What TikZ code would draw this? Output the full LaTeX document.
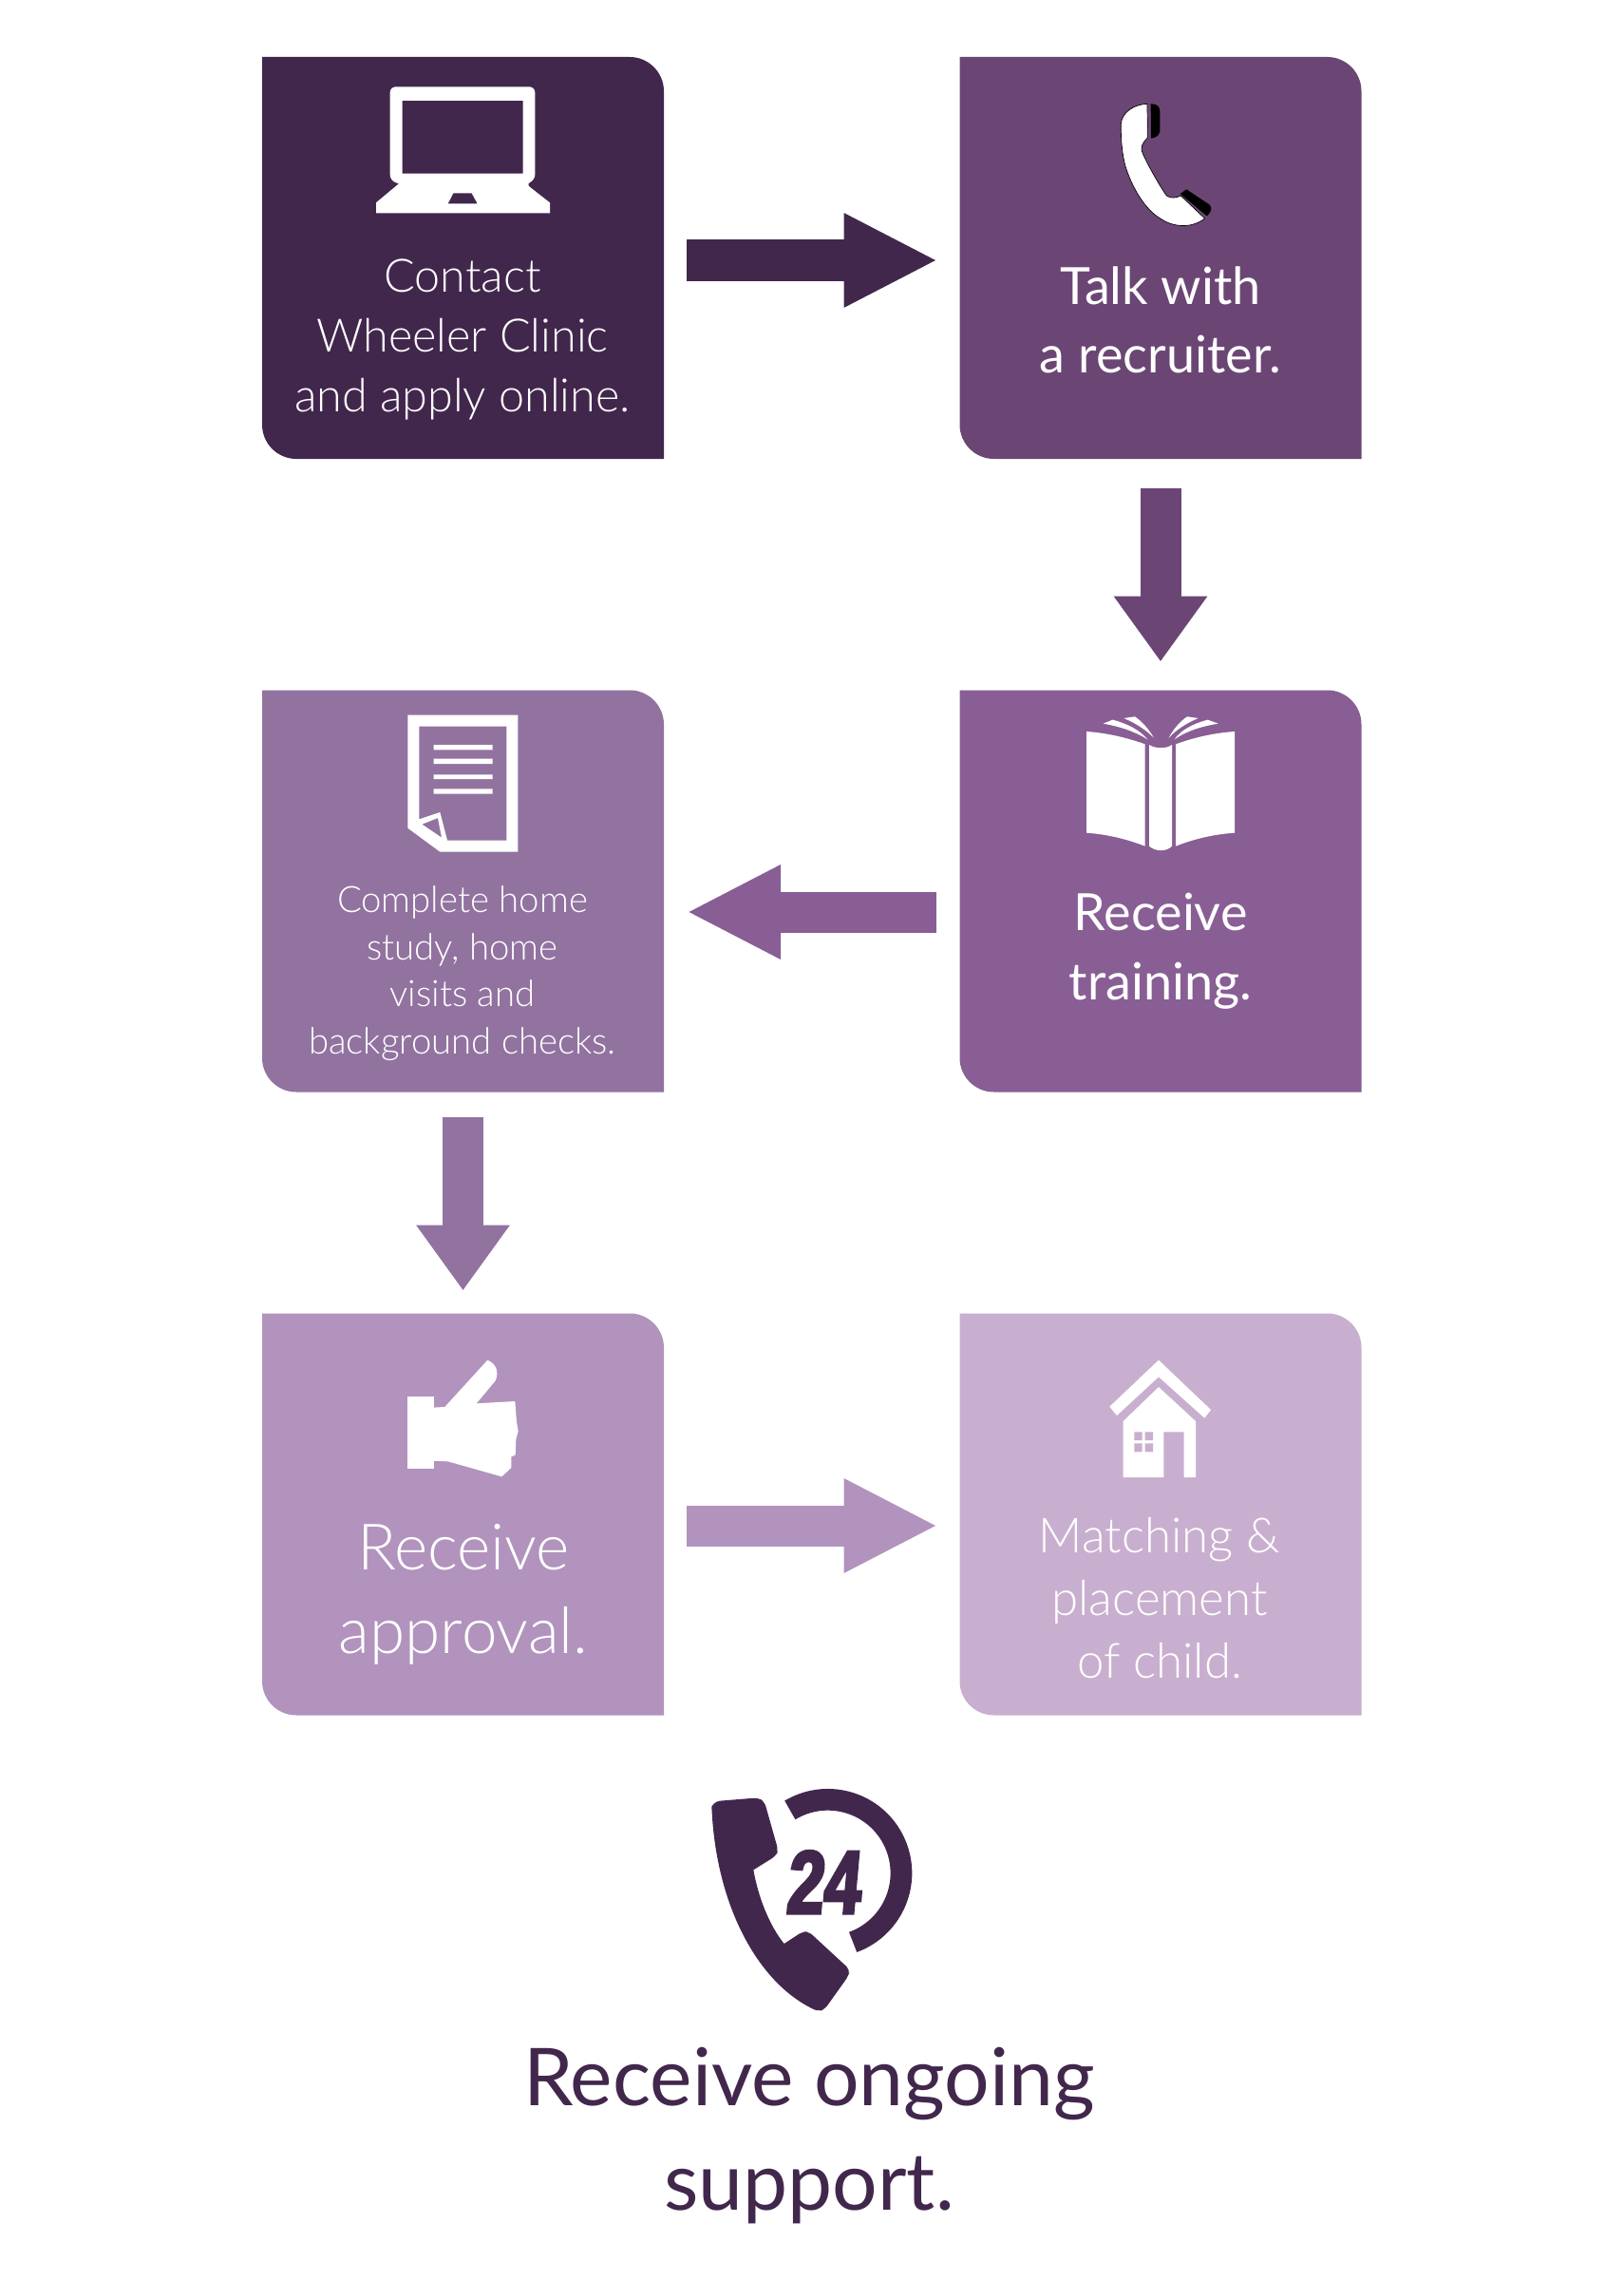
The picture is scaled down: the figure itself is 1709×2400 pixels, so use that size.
\documentclass[tikz,border=0pt]{standalone}
\usepackage{fontspec}
\setmainfont{Lato}
\newfontfamily\lightfont{Lato Light}
\newfontfamily\heavyfont[FakeSlant=0.09,FakeStretch=0.74,FakeBold=3.5]{Liberation Sans Bold}
\usetikzlibrary{arrows.meta}
\definecolor{cA}{HTML}{42274D}
\definecolor{cB}{HTML}{6B4675}
\definecolor{cC}{HTML}{885E95}
\definecolor{cD}{HTML}{9273A0}
\definecolor{cE}{HTML}{B193BD}
\definecolor{cF}{HTML}{C9AFCF}
\tikzset{
  stepbox/.style={rectangle,minimum width=423pt,minimum height=423pt,inner sep=0pt,outer sep=0pt},
  blockarrow/.style={line width=43pt,-{Triangle[length=99pt 0 0,width=92pt 0 0]}},
  blockarrowdown/.style={line width=43pt,-{Triangle[length=69pt 0 0,width=94pt 0 0]}},
  label/.style={anchor=base,align=center,inner sep=0pt,text=white},
  icon/.style={x=0.33333pt,y=-0.33333pt},
}
\newcommand{\panel}[4]{%
  \node[stepbox] (#1) at (#2,#3) {};
  \fill[#4] (#1.north west) -- ([xshift=-36pt]#1.north east) arc[start angle=90,end angle=0,radius=36pt]
    -- (#1.south east) -- ([xshift=36pt]#1.south west) arc[start angle=270,end angle=180,radius=36pt] -- cycle;
}
\begin{document}
\begin{tikzpicture}[x=1pt,y=-1pt]
\useasboundingbox (0,0) rectangle (1709,2400);
\fill[white] (0,0) rectangle (1709,2400);
\panel{contact}{487.5}{271.5}{cA}
\panel{talk}{1222}{271.5}{cB}
\panel{train}{1222}{938}{cC}
\panel{study}{487.5}{938}{cD}
\panel{approve}{487.5}{1594}{cE}
\panel{match}{1222}{1594}{cF}
% arrows
\draw[blockarrow,cA,shorten <=24pt,shorten >=23pt] ([yshift=-2.5pt]contact.east) -- ([yshift=-2.5pt]talk.west);
\draw[blockarrowdown,cB,shorten <=31pt,shorten >=30pt] (talk.south) -- (train.north);
\draw[blockarrow,cC,shorten <=25pt,shorten >=24pt] ([yshift=-22pt]train.west) -- ([yshift=-22pt]study.east);
\draw[blockarrowdown,cD,shorten <=26pt,shorten >=24pt] (study.south) -- (approve.north);
\draw[blockarrow,cE,shorten <=24pt,shorten >=23pt] ([yshift=-12pt]approve.east) -- ([yshift=-12pt]match.west);
% texts
\node[label,font=\lightfont\fontsize{48.5pt}{63pt}\selectfont] (t1) at (487,433) {Contact\\Wheeler Clinic\\and apply online.};
\node[label,font=\fontsize{54pt}{72pt}\selectfont] (t2) at (1222,392) {Talk with\\a recruiter.};
\node[label,font=\fontsize{54pt}{73pt}\selectfont] (t3) at (1222,1052) {Receive\\training.};
\node[label,font=\lightfont\fontsize{38.3pt}{49.5pt}\selectfont] (t4) at (487,1109) {Complete home\\study, home\\visits and\\background checks.};
\node[label,font=\lightfont\fontsize{67.5pt}{88pt}\selectfont] (t5) at (488,1740) {Receive\\approval.};
\node[label,font=\lightfont\fontsize{51pt}{66pt}\selectfont] (t6) at (1221,1766) {Matching \&\\placement\\of child.};
\node[label,text=cA,font=\fontsize{84pt}{110pt}\selectfont] (t7) at (852,2326) {Receive ongoing\\support.};
% laptop
\begin{scope}[shift={(270,50)},icon]
\fill[white,even odd rule] [rounded corners=6pt] (422,124) -- (880,124) -- (880,420) -- (850,430) [sharp corners] -- (927,490) -- (927,523) -- (378,523) -- (378,490) -- (450,430) [rounded corners=6pt] -- (422,420) -- cycle
  [sharp corners] (461,168) -- (842,168) -- (842,398) -- (461,398) -- cycle
  (622,460) -- (680,460) -- (698,493) -- (605,493) -- cycle;
\end{scope}
% handset
\begin{scope}[shift={(1000,50)},icon]
\fill[black] (635,178) .. controls (655,178) and (662,185) .. (664,200) -- (664,265) .. controls (660,280) and (650,285) .. (636,287) -- cycle;
\fill[black] (748,448) -- (820,496) .. controls (830,505) and (828,518) .. (812,532) -- (728,462) -- cycle;
\draw[black,line width=0.7pt,fill=white] (624,178) .. controls (580,180) and (545,205) .. (541,240) .. controls (540,290) and (545,340) .. (555,375)
  .. controls (575,440) and (615,510) .. (665,540) .. controls (700,565) and (760,575) .. (806,540) -- (730,468)
  .. controls (715,475) and (700,478) .. (685,468) .. controls (665,440) and (625,370) .. (610,335) .. controls (600,315) and (610,300) .. (625,285) -- cycle;
\end{scope}
% book
\begin{scope}[shift={(1100,720)},icon]
\fill[white] (132,150) .. controls (200,155) and (260,170) .. (317,190) -- (317,512) .. controls (260,490) and (200,475) .. (132,470) -- cycle;
\fill[white] (600,150) .. controls (530,155) and (470,170) .. (414,190) -- (414,512) .. controls (470,490) and (530,475) .. (600,470) -- cycle;
\fill[white] (330,192) .. controls (350,205) and (385,205) .. (402,192) -- (402,512) .. controls (385,530) and (350,530) .. (330,512) -- cycle;
\fill[white] (185,125) -- (215,113) .. controls (260,125) and (300,145) .. (325,175) .. controls (285,150) and (240,135) .. (185,125) -- cycle;
\fill[white] (250,108) -- (285,103) .. controls (310,120) and (330,145) .. (345,170) .. controls (320,145) and (290,125) .. (250,108) -- cycle;
\fill[white] (548,125) -- (515,113) .. controls (470,125) and (430,145) .. (410,175) .. controls (445,150) and (490,135) .. (548,125) -- cycle;
\fill[white] (485,108) -- (450,103) .. controls (425,120) and (405,145) .. (392,170) .. controls (415,145) and (445,125) .. (485,108) -- cycle;
\end{scope}
% document
\begin{scope}[shift={(400,730)},icon]
\fill[white,even odd rule] (88,68) -- (436,68) -- (436,500) -- (190,500) -- (88,425) -- cycle
  (124,104) -- (400,104) -- (400,464) -- (213,464) -- (190,375) -- (124,397) -- cycle
  (133,413) -- (183,393) -- (195,455) -- cycle;
\fill[white] (170,162) rectangle (356,178) (170,206) rectangle (356,222) (170,256) rectangle (356,270) (170,301) rectangle (356,317);
\end{scope}
% thumb
\begin{scope}[shift={(400,1400)},icon]
\fill[white] (88,211) rectangle (172,438);
\fill[white] (165,245) -- (205,243) -- (340,95) .. controls (365,105) and (378,130) .. (365,160) -- (305,232) -- (427,225) -- (432,290) -- (437,320) -- (430,345) -- (428,395) -- (415,400) -- (415,435) -- (385,463) -- (215,415) -- (165,413) -- cycle;
\end{scope}
% house
\begin{scope}[shift={(1140,1410)},icon]
\fill[white] (240,65) -- (405,222) -- (385,248) -- (240,118) -- (108,240) -- (85,212) -- cycle;
\fill[white] (240,150) -- (357,258) -- (357,435) -- (320,435) -- (320,292) -- (256,292) -- (256,435) -- (128,435) -- (128,258) -- cycle;
\fill[cF] (163,292) rectangle (188,318) (197,292) rectangle (222,318) (163,328) rectangle (188,355) (197,328) rectangle (222,355);
\end{scope}
% 24h phone
\begin{scope}[shift={(730,1860)},icon]
\draw[cA,line width=22.7pt] (305.5,136.1) arc[start angle=121,end angle=-70,radius=77.33pt];
\fill[cA] [rounded corners=5pt] (58,125) -- (70,108) -- (205,97) -- (225,110) -- (268,262) -- (262,280) [sharp corners] -- (190,325)
  .. controls (205,410) and (240,500) .. (287,558) [rounded corners=5pt] -- (345,520) -- (365,520) -- (495,640) -- (490,660) -- (415,765) -- (395,772)
  [sharp corners] .. controls (200,680) and (70,430) .. (58,125) -- cycle;
\end{scope}
\node[anchor=base,inner sep=0pt,text=cA,font=\heavyfont\fontsize{94pt}{94pt}\selectfont] (h24) at (866,2014) {24};
\end{tikzpicture}
\end{document}
